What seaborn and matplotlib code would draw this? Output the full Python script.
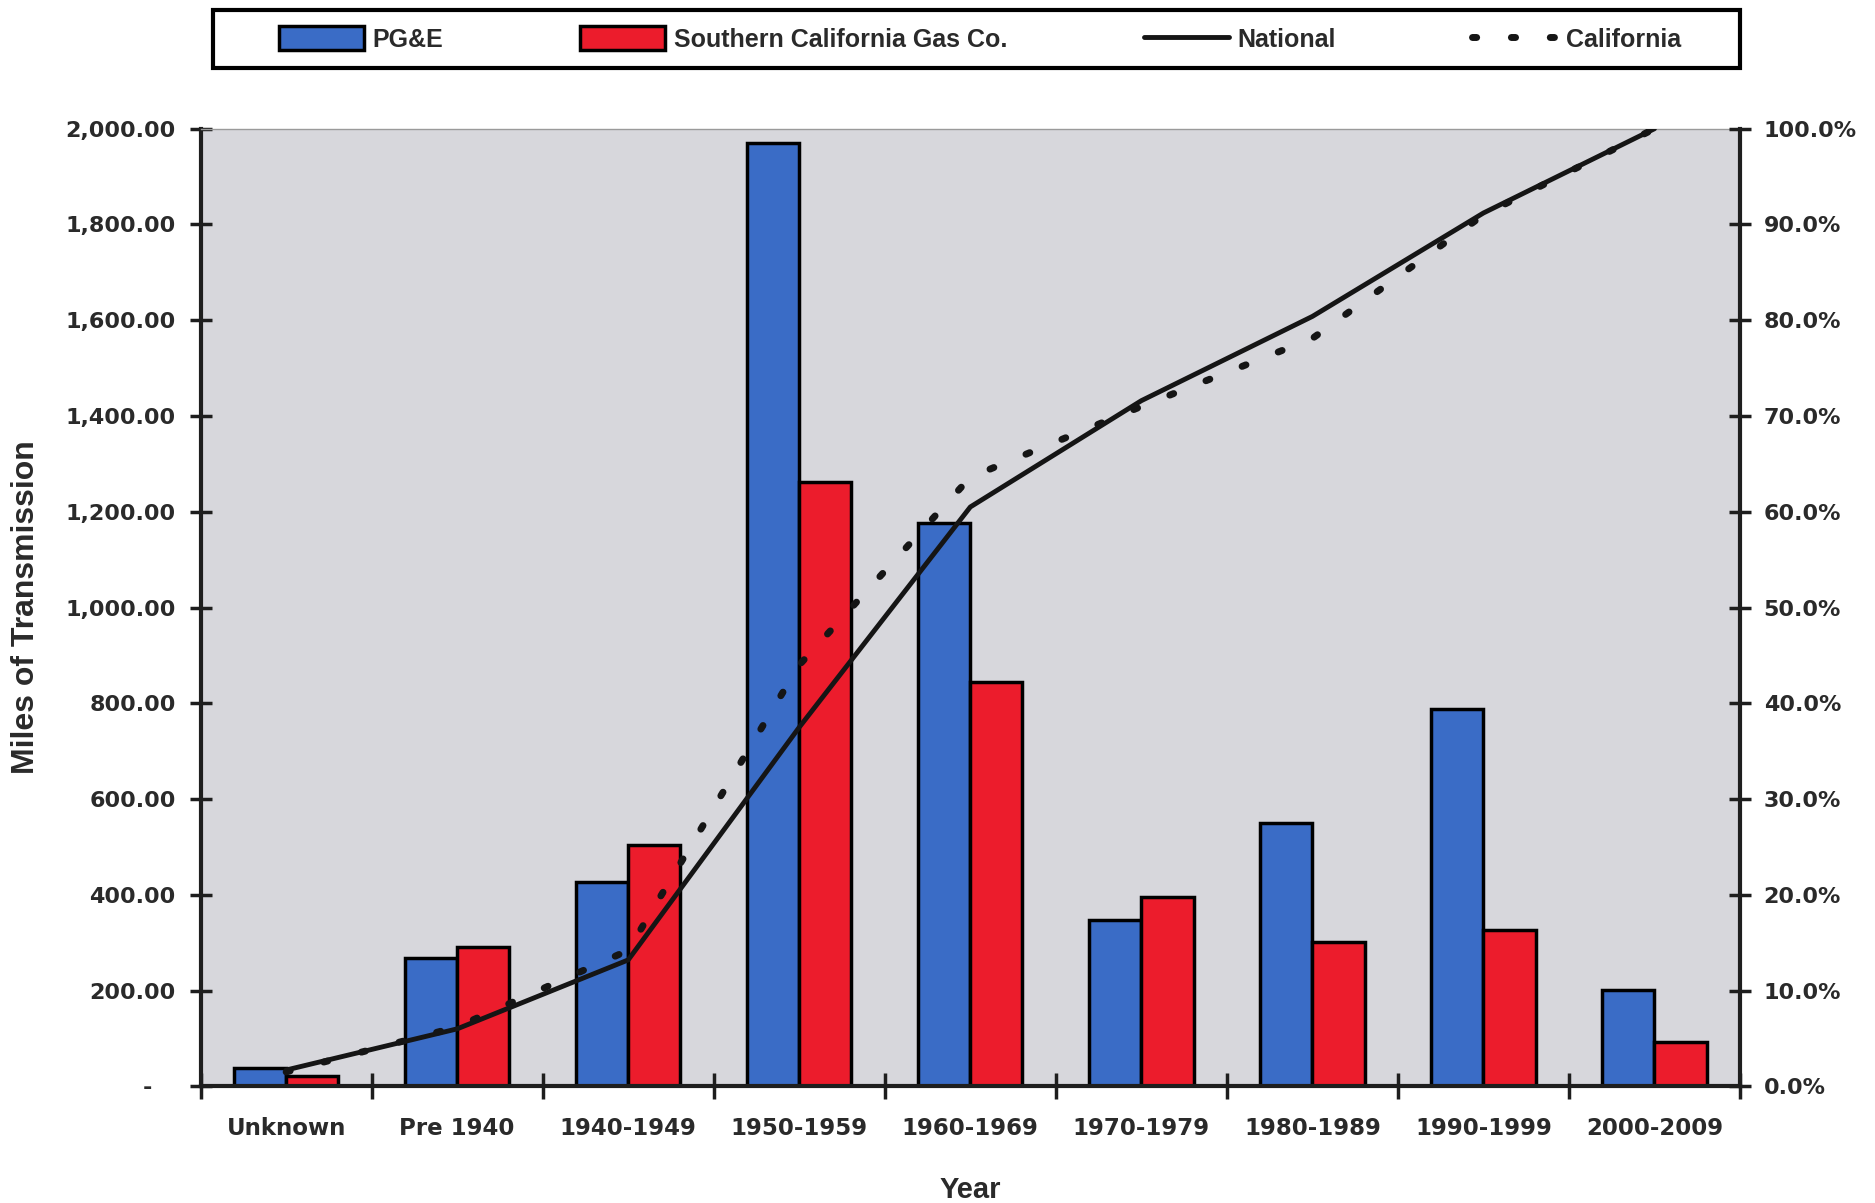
import numpy as np
import pandas as pd
import matplotlib
matplotlib.use("Agg")
import matplotlib.pyplot as plt
import seaborn as sns
from matplotlib.ticker import FuncFormatter
from matplotlib.patches import Rectangle

# --- Data ---
categories = ["Unknown", "Pre 1940", "1940-1949", "1950-1959", "1960-1969",
              "1970-1979", "1980-1989", "1990-1999", "2000-2009"]
pge_miles = [38, 268, 426, 1970, 1177, 347, 550, 787, 202]
socal_miles = [22, 290, 504, 1262, 844, 395, 302, 327, 92]
national_pct = [1.7, 6.0, 13.2, 37.5, 60.5, 71.6, 80.4, 91.2, 100.0]
california_pct = [1.5, 6.2, 14.2, 44.0, 63.6, 71.0, 78.1, 91.0, 100.0]
series_names = ["PG&E", "Southern California Gas Co."]

BLUE = "#3a6cc6"
RED = "#ec1c2c"
BG = "#d7d7dc"
TXT = "#2a2a2a"
TICKFONT = dict(family="DejaVu Sans", weight="bold")

sns.set_theme(style="white")
plt.rcParams["font.family"] = ["Liberation Sans", "DejaVu Sans"]

df = pd.DataFrame({
    "Year": categories * 2,
    "Miles": pge_miles + socal_miles,
    "Company": [series_names[0]] * len(categories) + [series_names[1]] * len(categories),
})

fig = plt.figure(figsize=(18.75, 12.03), dpi=100)
ax = fig.add_axes([0.107, 0.097, 0.821, 0.796])
ax.set_facecolor(BG)

sns.barplot(data=df, x="Year", y="Miles", hue="Company", palette=[BLUE, RED],
            width=0.61, saturation=1, edgecolor="black", linewidth=2.5, ax=ax)

# --- cumulative share lines on the right axis ---
ax2 = ax.twinx()
xpos = np.arange(len(categories))
sns.lineplot(x=xpos, y=national_pct, color="#151515", linewidth=3.5,
             label="National", ax=ax2)
sns.lineplot(x=xpos, y=california_pct, color="#151515", linewidth=5,
             linestyle=(0, (0.6, 5)), dash_capstyle="round",
             label="California", ax=ax2)

ax.set_xlim(-0.5, len(categories) - 0.5)
ax.set_ylim(0, 2000)
ax2.set_ylim(0, 100)

# --- ticks ---
ax.set_yticks(np.arange(0, 2001, 200))
ax.yaxis.set_major_formatter(FuncFormatter(lambda v, p: "-   " if v == 0 else f"{v:,.2f}"))
ax.tick_params(axis="y", left=True, direction="inout", length=16, width=2.5,
               pad=10, labelsize=16, labelcolor=TXT, color="#1e1e1e")
ax.set_xticks(np.arange(-0.5, len(categories), 1), minor=True)
ax.tick_params(axis="x", which="minor", bottom=True, direction="inout",
               length=19, width=2.5, color="#1e1e1e")
ax.tick_params(axis="x", which="major", length=0, pad=22, labelsize=16.5,
               labelcolor=TXT)

ax2.set_yticks(np.arange(0, 101, 10))
ax2.yaxis.set_major_formatter(FuncFormatter(lambda v, p: f"{v:.1f}%"))
ax2.tick_params(axis="y", right=True, direction="inout", length=16, width=2.5,
                pad=9, labelsize=16, labelcolor=TXT, color="#1e1e1e")
ax2.set_ylabel("")

for lab in ax.get_xticklabels() + ax.get_yticklabels() + ax2.get_yticklabels():
    lab.set_fontfamily(TICKFONT["family"])
    lab.set_fontweight(TICKFONT["weight"])

# --- spines ---
for s in ["left", "bottom"]:
    ax.spines[s].set_color("#1e1e1e")
    ax.spines[s].set_linewidth(3)
ax.spines["right"].set_visible(False)
ax.spines["top"].set_color("#9a9a9a")
ax.spines["top"].set_linewidth(1)
for s in ["left", "bottom", "top"]:
    ax2.spines[s].set_visible(False)
ax2.spines["right"].set_color("#1e1e1e")
ax2.spines["right"].set_linewidth(3)

# --- labels ---
ax.set_xlabel("Year", fontsize=21, fontweight="bold", color=TXT)
ax.set_ylabel("Miles of Transmission", fontsize=23, fontweight="bold", color=TXT)
ax.xaxis.set_label_coords(0.5, -0.094)
ax.yaxis.set_label_coords(-0.104, 0.5)

# --- legend across the top, frame drawn separately ---
h1, l1 = ax.get_legend_handles_labels()
h2, l2 = ax2.get_legend_handles_labels()
ax.get_legend().remove()
ax2.get_legend().remove()
leg = fig.legend(h1 + h2, l1 + l2, loc="center",
                 bbox_to_anchor=(279 / 1875, 1 - 68 / 1203, 1402 / 1875, 58 / 1203),
                 mode="expand", ncol=4, frameon=False, fontsize=18,
                 prop={"weight": "bold", "size": 18},
                 handlelength=3.4, handleheight=1.1, handletextpad=0.35,
                 borderaxespad=0, borderpad=0)
for t in leg.get_texts():
    t.set_color(TXT)
fig.patches.append(Rectangle((213 / 1875, 1 - 68 / 1203), 1527 / 1875, 58 / 1203,
                             transform=fig.transFigure, fill=False,
                             linewidth=3, edgecolor="black"))

fig.savefig("out.png", dpi=100)
